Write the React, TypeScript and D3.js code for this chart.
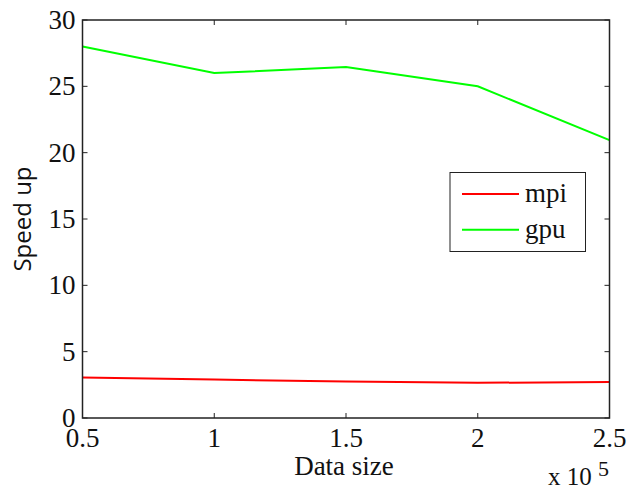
import React from 'react';
import * as d3 from 'd3';

const dataSize = [0.5, 1, 1.5, 2, 2.5];
const mpiSpeedup = [3.05, 2.9, 2.75, 2.65, 2.72];
const gpuSpeedup = [28.0, 26.0, 26.45, 25.0, 20.95];
const xTicks = [0.5, 1, 1.5, 2, 2.5];
const yTicks = [0, 5, 10, 15, 20, 25, 30];

const series = [
  { name: 'mpi', values: mpiSpeedup, color: '#ff0000' },
  { name: 'gpu', values: gpuSpeedup, color: '#00ff00' },
];

const W = 636;
const H = 491;
const margin = { top: 20, right: 26.5, bottom: 73, left: 82.5 };
const SERIF = 'Liberation Serif, serif';
const SANS = 'Open Sans, sans-serif';

export default function App() {
  const x = d3.scaleLinear().domain([0.5, 2.5]).range([margin.left, W - margin.right]);
  const y = d3.scaleLinear().domain([0, 30]).range([H - margin.bottom, margin.top]);

  const line = (vals: number[]) =>
    d3.line<number>()
      .x((_, i) => x(dataSize[i]))
      .y(d => y(d))(vals) || '';

  const x0 = x.range()[0];
  const x1 = x.range()[1];
  const y0 = y.range()[0];
  const y1 = y.range()[1];
  const tick = 5;

  return (
    <svg width={W} height={H} style={{ position: 'absolute', left: 0, top: 0 }}>
      <rect width={W} height={H} fill="#fff" />
      {/* series */}
      {series.map(s => (
        <path key={s.name} d={line(s.values)} fill="none" stroke={s.color} strokeWidth={2} />
      ))}
      {/* frame */}
      <rect x={x0} y={y1} width={x1 - x0} height={y0 - y1} fill="none" stroke="#222" strokeWidth={1.5} />
      {/* y ticks */}
      {yTicks.map(t => (
        <g key={'y' + t}>
          <line x1={x0} x2={x0 + tick} y1={y(t)} y2={y(t)} stroke="#222" strokeWidth={1} />
          <line x1={x1} x2={x1 - tick} y1={y(t)} y2={y(t)} stroke="#222" strokeWidth={1} />
          <text x={x0 - 7} y={y(t) + 9} textAnchor="end" fontFamily={SERIF} fontSize={27} fill="#111">
            {t}
          </text>
        </g>
      ))}
      {/* x ticks */}
      {xTicks.map(t => (
        <g key={'x' + t}>
          <line x1={x(t)} x2={x(t)} y1={y0} y2={y0 - tick} stroke="#222" strokeWidth={1} />
          <line x1={x(t)} x2={x(t)} y1={y1} y2={y1 + tick} stroke="#222" strokeWidth={1} />
          <text x={x(t)} y={447} textAnchor="middle" fontFamily={SERIF} fontSize={27} fill="#111">
            {t}
          </text>
        </g>
      ))}
      {/* axis labels */}
      <text x={344} y={475} textAnchor="middle" fontFamily={SERIF} fontSize={27} fill="#111">
        Data size
      </text>
      <text transform={`translate(31,${(y0 + y1) / 2}) rotate(-90)`} textAnchor="middle" fontFamily={SANS} fontSize={24} fill="#111">
        Speed up
      </text>
      <text x={548} y={485} fontFamily={SERIF} fontSize={25} fill="#111">
        x 10
      </text>
      <text x={598} y={476} fontFamily={SERIF} fontSize={22} fill="#111">
        5
      </text>
      {/* legend */}
      <g>
        <rect x={450} y={172.5} width={135.5} height={79} fill="#fff" stroke="#222" strokeWidth={1} />
        {series.map((s, i) => (
          <g key={'lg' + s.name}>
            <line x1={462} x2={519} y1={194 + i * 35.7} y2={194 + i * 35.7} stroke={s.color} strokeWidth={2} />
            <text x={525} y={194 + i * 35.7 + 8} fontFamily={SERIF} fontSize={27} fill="#111">
              {s.name}
            </text>
          </g>
        ))}
      </g>
    </svg>
  );
}
